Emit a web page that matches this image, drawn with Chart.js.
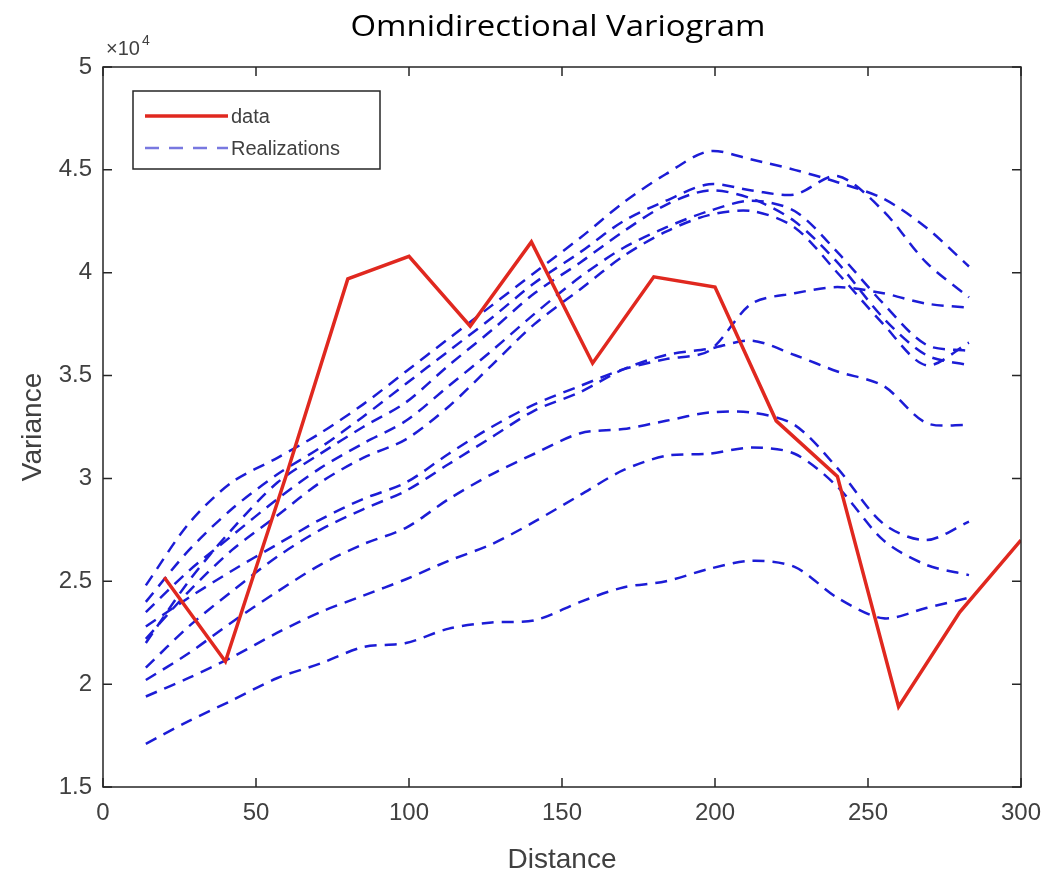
<!DOCTYPE html>
<html>
<head>
<meta charset="utf-8">
<script src="https://cdn.jsdelivr.net/npm/chart.js@4.4.1/dist/chart.umd.min.js"></script>
<style>
  html,body{margin:0;padding:0;background:#fff;}
  #wrap{width:1051px;height:881px;}
</style>
</head>
<body>
<div id="wrap"><canvas id="vario" width="1051" height="881"></canvas></div>
<script>
// values are in units of 10^4
const dataLags = [20,40,60,80,100,120,140,160,180,200,220,240,260,280,300];
const dataVar  = [2.52,2.11,3.02,3.97,4.08,3.74,4.15,3.56,3.98,3.93,3.28,3.01,1.89,2.35,2.70];

const realLags = [14,28,42,57,71,85,99,113,127,141,156,170,184,198,212,226,240,255,269,283];
const real1  = [2.48,2.78,2.98,3.10,3.22,3.36,3.52,3.68,3.84,4.00,4.17,4.34,4.48,4.59,4.55,4.50,4.44,4.36,4.22,4.03];
const real2  = [2.40,2.65,2.85,3.02,3.15,3.30,3.46,3.62,3.78,3.95,4.10,4.25,4.35,4.43,4.40,4.38,4.47,4.30,4.05,3.88];
const real3  = [2.20,2.50,2.75,2.98,3.12,3.25,3.37,3.55,3.72,3.90,4.05,4.20,4.33,4.40,4.36,4.25,4.05,3.78,3.60,3.55];
const real4  = [2.35,2.55,2.72,2.90,3.05,3.17,3.28,3.45,3.62,3.80,3.98,4.12,4.22,4.30,4.35,4.30,4.10,3.85,3.65,3.62];
const real5  = [2.22,2.45,2.65,2.82,2.98,3.10,3.19,3.35,3.55,3.75,3.92,4.08,4.20,4.28,4.30,4.22,4.00,3.75,3.55,3.66];
const real6  = [2.28,2.42,2.55,2.68,2.80,2.90,2.98,3.12,3.25,3.36,3.45,3.53,3.58,3.62,3.85,3.90,3.93,3.90,3.85,3.83];
const real7  = [2.08,2.28,2.45,2.62,2.75,2.85,2.94,3.07,3.20,3.33,3.42,3.53,3.60,3.63,3.67,3.60,3.52,3.45,3.27,3.26];
const real8  = [2.02,2.15,2.30,2.45,2.58,2.68,2.76,2.90,3.02,3.12,3.22,3.24,3.28,3.32,3.32,3.26,3.05,2.78,2.70,2.79];
const real9  = [1.94,2.03,2.13,2.25,2.35,2.43,2.51,2.60,2.68,2.79,2.92,3.04,3.11,3.12,3.15,3.12,2.96,2.70,2.58,2.53];
const real10 = [1.71,1.82,1.92,2.03,2.10,2.18,2.20,2.27,2.30,2.31,2.40,2.47,2.50,2.56,2.60,2.57,2.42,2.32,2.37,2.42];
const realizations = [real1,real2,real3,real4,real5,real6,real7,real8,real9,real10];

const titleText = 'Omnidirectional Variogram';
const xLabel = 'Distance', yLabel = 'Variance';
const legendLabels = ['data','Realizations'];

const RED='#e0281f', BLUE='#1c1cd6', AXIS='#262626', TXT='#404040';
const tickFont='"Liberation Sans", Arial, sans-serif';

const pairs=(xs,ys)=>xs.map((x,i)=>({x,y:ys[i]}));

const datasets=[{
  label:legendLabels[0], data:pairs(dataLags,dataVar),
  borderColor:RED, borderWidth:3.5, pointRadius:0, tension:0, order:0
}];
realizations.forEach((r,i)=>datasets.push({
  label:legendLabels[1]+' '+(i+1), data:pairs(realLags,r),
  borderColor:BLUE, borderWidth:2.5, borderDash:[12,8], pointRadius:0,
  tension:0.3, order:1
}));

// MATLAB style box, inward ticks, exponent, title and legend
const matlabBox={
  id:'matlabBox',
  afterDraw(chart){
    const {ctx,chartArea:a,scales:{x,y}}=chart;
    ctx.save();
    ctx.strokeStyle=AXIS; ctx.lineWidth=1.5;
    ctx.strokeRect(a.left,a.top,a.right-a.left,a.bottom-a.top);
    const L=9;
    ctx.beginPath();
    x.ticks.forEach(t=>{
      const px=x.getPixelForValue(t.value);
      ctx.moveTo(px,a.bottom); ctx.lineTo(px,a.bottom-L);
      ctx.moveTo(px,a.top); ctx.lineTo(px,a.top+L);
    });
    y.ticks.forEach(t=>{
      const py=y.getPixelForValue(t.value);
      ctx.moveTo(a.left,py); ctx.lineTo(a.left+L,py);
      ctx.moveTo(a.right,py); ctx.lineTo(a.right-L,py);
    });
    ctx.stroke();

    // exponent
    ctx.fillStyle=TXT; ctx.textBaseline='alphabetic'; ctx.textAlign='left';
    ctx.font='20px '+tickFont;
    ctx.fillText('\u00d710',a.left+3,a.top-12);
    ctx.font='14px '+tickFont;
    ctx.fillText('4',a.left+39,a.top-22);

    // title, stretched a little like the source figure
    ctx.fillStyle='#000'; ctx.textAlign='center'; ctx.textBaseline='middle';
    ctx.font='29px "Open Sans", sans-serif';
    const tw=ctx.measureText(titleText).width, sx=415/tw;
    ctx.save(); ctx.translate(558,28); ctx.scale(sx,1);
    ctx.fillText(titleText,0,0);
    ctx.restore();

    // legend
    const bx=a.left+30, by=a.top+24, bw=247, bh=78;
    ctx.fillStyle='#fff'; ctx.fillRect(bx,by,bw,bh);
    ctx.strokeStyle=AXIS; ctx.lineWidth=1.5; ctx.strokeRect(bx,by,bw,bh);
    ctx.lineWidth=3.5; ctx.strokeStyle=RED;
    ctx.beginPath(); ctx.moveTo(bx+12,by+25); ctx.lineTo(bx+95,by+25); ctx.stroke();
    ctx.lineWidth=2.5; ctx.strokeStyle='#7878e0'; ctx.setLineDash([14,10]);
    ctx.beginPath(); ctx.moveTo(bx+12,by+57); ctx.lineTo(bx+95,by+57); ctx.stroke();
    ctx.setLineDash([]);
    ctx.fillStyle=TXT; ctx.textAlign='left'; ctx.font='20px '+tickFont;
    ctx.fillText(legendLabels[0],bx+98,by+26);
    ctx.fillText(legendLabels[1],bx+98,by+58);
    ctx.restore();
  }
};

new Chart(document.getElementById('vario'),{
  type:'line',
  data:{datasets},
  options:{
    responsive:false, animation:false,
    layout:{padding:{top:67,right:30,left:12,bottom:0}},
    plugins:{legend:{display:false},tooltip:{enabled:false}},
    scales:{
      x:{type:'linear',min:0,max:300,
        afterFit:s=>{s.height=94;},
        ticks:{stepSize:50,color:TXT,font:{size:24,family:tickFont},padding:4,maxRotation:0},
        grid:{display:false},border:{display:false},
        title:{display:true,text:xLabel,color:TXT,font:{size:28,family:tickFont},padding:{top:2}}},
      y:{type:'linear',min:1.5,max:5,
        afterFit:s=>{s.width=91;},
        ticks:{stepSize:0.5,color:TXT,font:{size:24,family:tickFont},padding:3,
          callback:v=>String(+v.toFixed(2))},
        grid:{display:false},border:{display:false},
        title:{display:true,text:yLabel,color:TXT,font:{size:28,family:tickFont},padding:{bottom:2}}}
    }
  },
  plugins:[matlabBox]
});
</script>
</body>
</html>
